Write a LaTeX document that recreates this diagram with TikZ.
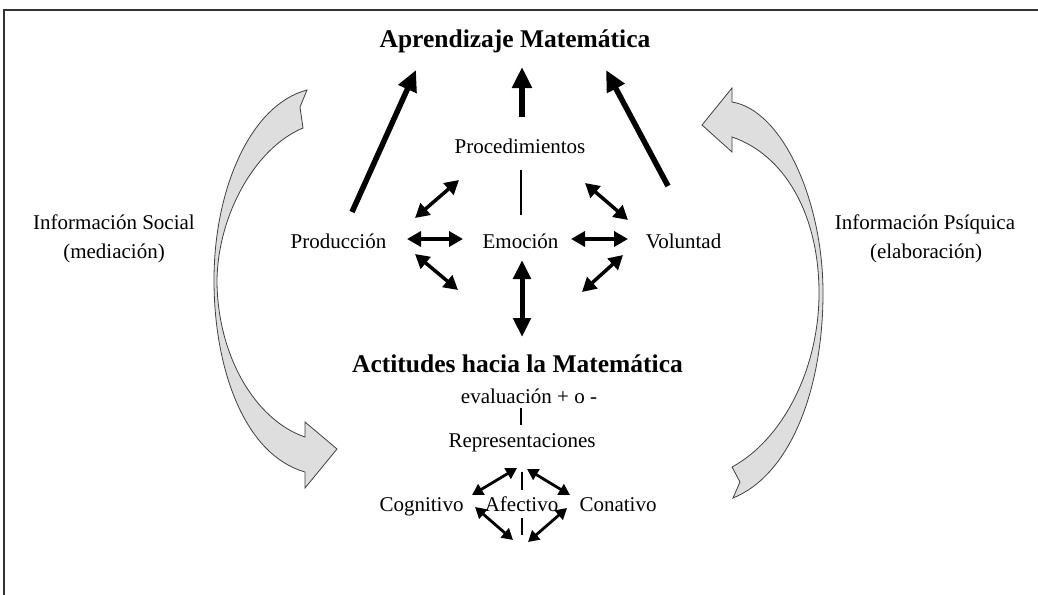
\documentclass[tikz,border=0pt]{standalone}
\usepackage{fontspec}
\setmainfont{Liberation Serif}
\usetikzlibrary{arrows.meta}
\begin{document}
\begin{tikzpicture}[x=1pt,y=-1pt,
  lbl/.style={inner sep=0pt,anchor=base,font=\fontsize{21}{25}\selectfont},
  ttl/.style={inner sep=0pt,anchor=base,font=\fontsize{25.5}{30}\selectfont\bfseries},
  bigarr/.style={line width=5.5pt,-{Triangle[length=21pt,width=19pt]}},
  bigdbl/.style={line width=5pt,{Triangle[length=19pt,width=17pt]}-{Triangle[length=19pt,width=17pt]}},
  middbl/.style={line width=3.5pt,{Triangle[length=14pt,width=15pt]}-{Triangle[length=14pt,width=15pt]}},
  smldbl/.style={line width=2.8pt,{Triangle[length=11pt,width=12pt]}-{Triangle[length=11pt,width=12pt]}},
  thin/.style={line width=1.2pt},
  gray arrow/.style={fill=black!13,draw=black!75,line width=0.8pt,line join=miter}
]
\useasboundingbox (0,0) rectangle (1038,594);
% frame
\draw[line width=2pt,black!80] (1040,10) -- (4,10) -- (4,596);

% texts
\node[ttl] (apr) at (515,48) {Aprendizaje Matemática};
\node[lbl] (proc) at (520,153) {Procedimientos};
\node[lbl] (prod) at (338.5,248) {Producción};
\node[lbl] (emo) at (520.5,248) {Emoción};
\node[lbl] (vol) at (683.5,248) {Voluntad};
\node[ttl] (act) at (517.5,372) {Actitudes hacia la Matemática};
\node[lbl] (eval) at (529,403) {evaluación + o -};
\node[lbl] (rep) at (522,447) {Representaciones};
\node[lbl] (cog) at (421.5,511) {Cognitivo};
\node[lbl] (afe) at (521.5,511) {Afectivo};
\node[lbl] (con) at (618,511) {Conativo};
\node[lbl] (socA) at (114,229) {Información Social};
\node[lbl] (socB) at (114,258) {(mediación)};
\node[lbl] (psiA) at (925,229) {Información Psíquica};
\node[lbl] (psiB) at (926,258) {(elaboración)};

% coordinates
\coordinate (pA) at (352,212);  \coordinate (pB) at (416,70);
\coordinate (cA) at (522,117);  \coordinate (cB) at (522,67);
\coordinate (vA) at (668,186);  \coordinate (vB) at (606,70);
\coordinate (l1a) at (521,170); \coordinate (l1b) at (521,215);
\coordinate (ul1) at (415,218); \coordinate (ul2) at (459,180);
\coordinate (hl1) at (407,239); \coordinate (hl2) at (463,239);
\coordinate (ll1) at (415,254); \coordinate (ll2) at (458,290);
\coordinate (hr1) at (571,239); \coordinate (hr2) at (628,239);
\coordinate (ur1) at (585,183); \coordinate (ur2) at (628,220);
\coordinate (lr1) at (623,255); \coordinate (lr2) at (582,292);
\coordinate (ea) at (522,260);  \coordinate (eb) at (522,337);
\coordinate (l2a) at (521,408); \coordinate (l2b) at (521,425);
\coordinate (bul1) at (472,495); \coordinate (bul2) at (517,468);
\coordinate (bur1) at (527,469); \coordinate (bur2) at (570,495);
\coordinate (bll1) at (475,507); \coordinate (bll2) at (513,540);
\coordinate (blr1) at (528,542); \coordinate (blr2) at (567,508);
\coordinate (l3a) at (522,472); \coordinate (l3b) at (522,490);
\coordinate (l4a) at (522,518); \coordinate (l4b) at (522,535);

% arrows to Aprendizaje
\draw[bigarr] (pA) -- (pB);
\draw[bigarr] (cA) -- (cB);
\draw[bigarr] (vA) -- (vB);
% around Emocion
\draw[thin] (l1a) -- (l1b);
\draw[middbl] (ul1) -- (ul2);
\draw[middbl] (hl1) -- (hl2);
\draw[middbl] (ll1) -- (ll2);
\draw[middbl] (hr1) -- (hr2);
\draw[middbl] (ur1) -- (ur2);
\draw[middbl] (lr1) -- (lr2);
\draw[bigdbl] (ea) -- (eb);
% lower part
\draw[thin] (l2a) -- (l2b);
\draw[smldbl] (bul1) -- (bul2);
\draw[smldbl] (bur1) -- (bur2);
\draw[smldbl] (bll1) -- (bll2);
\draw[smldbl] (blr1) -- (blr2);
\draw[thin] (l3a) -- (l3b);
\draw[thin] (l4a) -- (l4b);

% curved gray arrows
\draw[gray arrow] (307,90) -- (300,107) -- (303,128)
  .. controls (255,148) and (218,215) .. (217,280)
  .. controls (217,355) and (255,420) .. (305,437)
  -- (305,422) -- (337,449) -- (305,488) -- (305,472)
  .. controls (245,455) and (214,370) .. (214,280)
  .. controls (214,190) and (250,105) .. (307,90) -- cycle;
\draw[gray arrow] (702,125) -- (732,88) -- (732,102)
  .. controls (782,110) and (823,200) .. (823,293)
  .. controls (823,390) and (790,475) .. (733,498)
  -- (740,482) -- (732,467)
  .. controls (782,440) and (819,370) .. (819,293)
  .. controls (819,215) and (785,155) .. (732,137)
  -- (732,152) -- cycle;
\end{tikzpicture}
\end{document}
